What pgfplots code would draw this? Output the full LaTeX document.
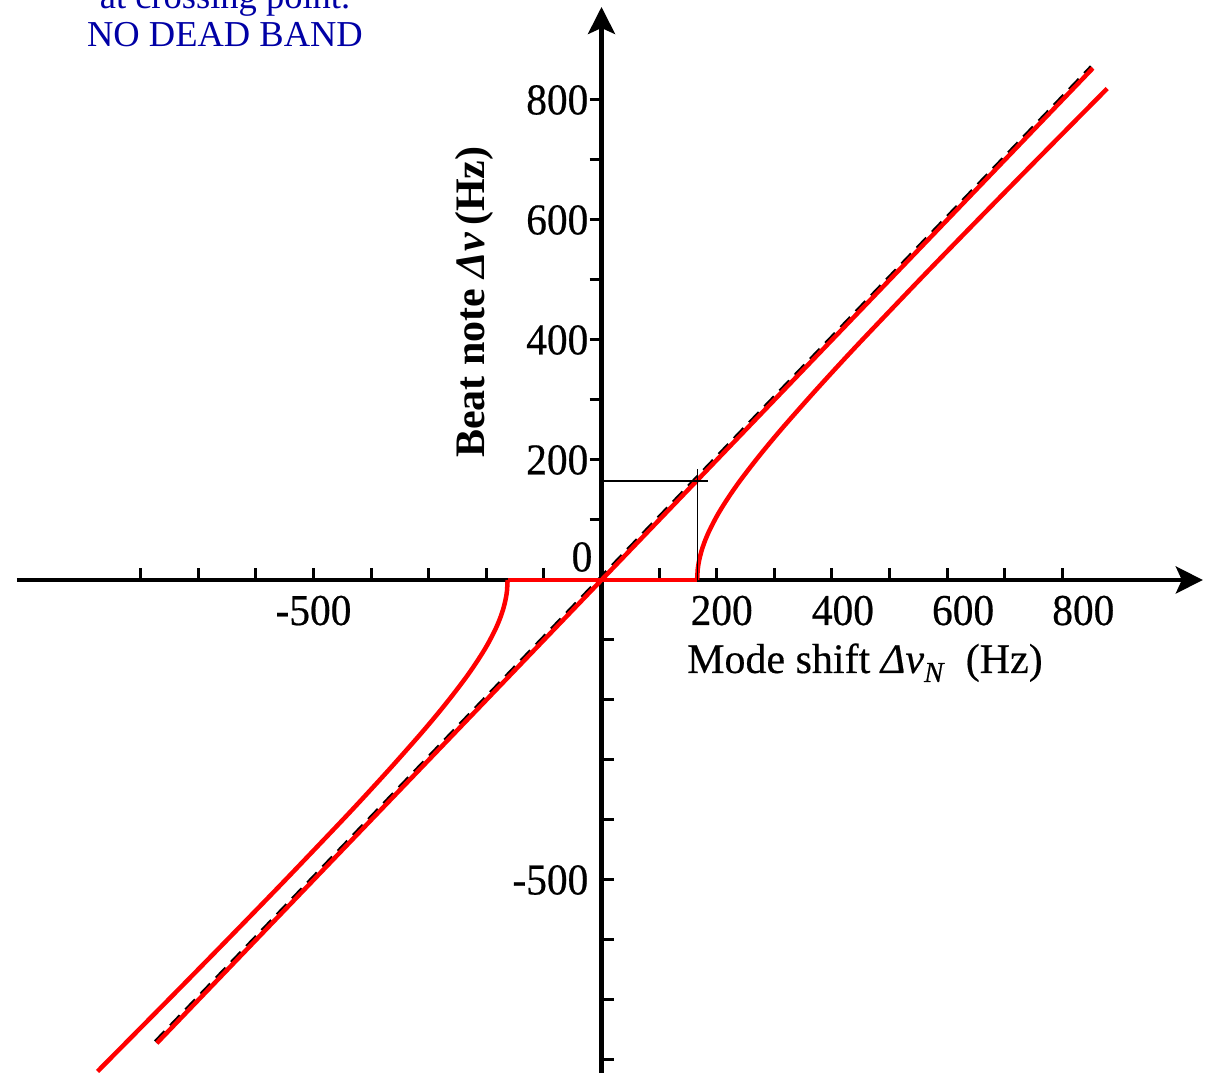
\documentclass[border=0pt]{standalone}
\usepackage{fontspec}
\setmainfont{Liberation Serif}
\newfontfamily\tickfont[FakeStretch=0.94,FakeBold=0.5]{Liberation Serif}
\newfontfamily\labelfont[FakeBold=0.4]{Liberation Serif}
\usepackage{pgfplots}
\pgfplotsset{compat=1.18}
\usetikzlibrary{arrows.meta}
\definecolor{noteblue}{RGB}{0,0,165}

\begin{document}
\begin{tikzpicture}
\path[use as bounding box] (0pt,0pt) rectangle (1213pt,1073pt);
\clip (0pt,0pt) rectangle (1213pt,1073pt);

% annotation in the upper left corner
\node[anchor=base, text=noteblue, inner sep=0pt, font=\fontsize{36.5}{40}\selectfont] at (225pt,1064pt) {at crossing point.};
\node[anchor=base, text=noteblue, inner sep=0pt, font=\fontsize{36.5}{40}\selectfont] at (225pt,1026.3pt) {NO DEAD BAND};

\begin{axis}[
  at={(16.86pt,-11pt)}, anchor=south west,
  x=0.576pt, y=0.600pt,
  xmin=-1015, xmax=1044, ymin=-840, ymax=955,
  enlargelimits=false,
  axis lines=middle,
  axis line style={black, line width=4.5pt, -{Stealth[length=27pt,width=27pt,inset=6pt]}},
  major tick length=12pt,
  tick style={black, line width=3pt},
  tick align=inside,
  xtick={-800,-700,-600,-500,-400,-300,-200,-100,100,200,300,400,500,600,700,800},
  xticklabels={,,,-500,,,,,,\hspace*{10pt}200,,\hspace*{22pt}400,,\hspace*{32pt}600,,\hspace*{42pt}800},
  ytick={-800,-700,-600,-500,-400,-300,-200,-100},
  yticklabels={,,,-500,,,,},
  extra y ticks={100,200,300,400,500,600,700,800},
  extra y tick labels={,200,,400,,600,,800},
  extra y tick style={tick align=outside, yticklabel style={xshift=12pt}},
  xticklabel style={font=\tickfont\fontsize{44}{44}\selectfont, anchor=base, inner sep=0pt, yshift=-45pt},
  yticklabel style={font=\tickfont\fontsize{44}{44}\selectfont, anchor=east, inner sep=0pt, xshift=-13pt},
  xlabel={Mode shift \textit{Δν}\raisebox{-9pt}{\fontsize{29}{29}\selectfont\textit{N}}\ \ (Hz)},
  ylabel={\bfseries Beat note \textit{Δν}\,(Hz)},
  xlabel style={at={(axis description cs:0.5650,0.3816)}, anchor=base west, inner sep=0pt, font=\labelfont\fontsize{42}{42}\selectfont},
  ylabel style={at={(axis description cs:0.3861,0.7259)}, anchor=center, rotate=90, inner sep=0pt, font=\fontsize{42}{42}\selectfont},
]
% ideal response, beat note equal to mode shift
\addplot[black, line width=4.5pt, dash pattern=on 14pt off 8pt, xshift=-1.2pt, yshift=1.2pt] coordinates {(-772,-772) (853,853)};
\addplot[red, line width=4.5pt] coordinates {(-772,-772) (853,853)};
% response with lock-in dead band: negative branch
\addplot[red, line width=4.5pt, line join=round, smooth, tension=0.5] coordinates {
  (-875,-819.1) (-802,-748.3) (-729,-677.3) (-657,-606.8) (-590,-540.8)
  (-538,-489.1) (-451,-401.5) (-407,-356.2) (-364,-310.9) (-319,-262.1)
  (-297,-237.4) (-277,-214.2) (-257,-190) (-237,-164.7) (-222,-144.3)
  (-208,-123.7) (-197,-106) (-185,-83.8) (-177,-66.1) (-171,-49.6)
  (-167,-34.8) (-165,-24.5) (-164,-17.3) (-163,0)
};
% dead band
\addplot[red, line width=4.5pt] coordinates {(-163,0) (166,0)};
% positive branch
\addplot[red, line width=4.5pt, line join=round, smooth, tension=0.5] coordinates {
  (166,0) (167,17.3) (168,24.5) (170,34.8) (174,49.6) (180,66.1) (188,83.8)
  (200,106) (211,123.7) (225,144.3) (240,164.7) (260,190) (280,214.2)
  (300,237.4) (322,262.1) (367,310.9) (410,356.2) (454,401.5) (541,489.1)
  (593,540.8) (660,606.8) (732,677.3) (805,748.3) (878,819.1)
};
% edge of the dead band
\addplot[black, line width=1.2pt] coordinates {(0,165) (185,165)};
\addplot[black, line width=1.2pt] coordinates {(166,0) (166,185)};
\node[font=\tickfont\fontsize{44}{44}\selectfont, inner sep=0pt] at (axis cs:0,0) [xshift=-19.5pt, yshift=23pt] {0};
\end{axis}
\end{tikzpicture}
\end{document}
